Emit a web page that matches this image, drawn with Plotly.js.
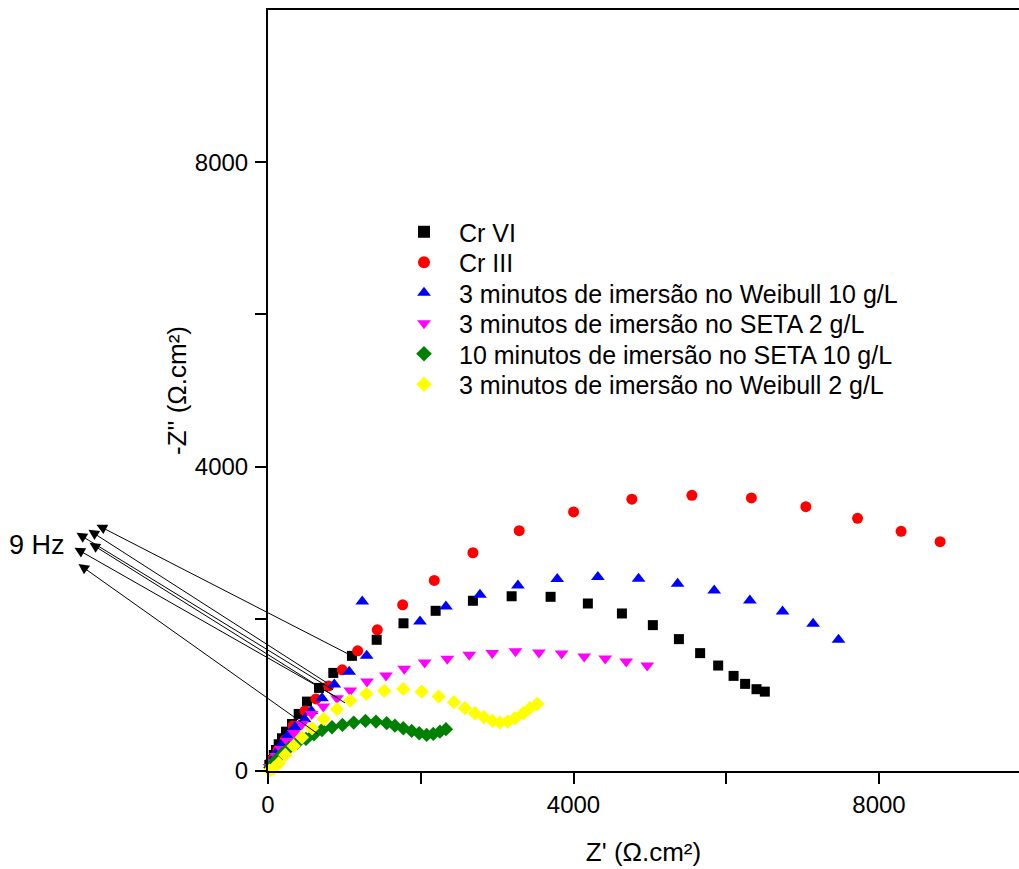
<!DOCTYPE html>
<html>
<head>
<meta charset="utf-8">
<script src="https://cdn.plot.ly/plotly-3.0.1.min.js"></script>
<style>
  html, body { margin: 0; padding: 0; background: #fff; }
  #chart { width: 1019px; height: 869px; }
</style>
</head>
<body>
<div id="chart"></div>
<script>
// ---- Data ----
const seriesNames = [
  "Cr VI",
  "Cr III",
  "3 minutos de imersão no Weibull 10 g/L",
  "3 minutos de imersão no SETA 2 g/L",
  "10 minutos de imersão no SETA 10 g/L",
  "3 minutos de imersão no Weibull 2 g/L"
];

const crVI_x = [17, 43, 75, 105, 140, 183, 236, 314, 402, 510, 668, 855, 1099, 1423, 1774, 2195, 2683, 3190, 3700, 4188, 4634, 5039, 5380, 5658, 5894, 6096, 6247, 6396, 6505];
const crVI_y = [79, 145, 211, 276, 351, 430, 517, 618, 750, 912, 1092, 1289, 1513, 1724, 1941, 2105, 2237, 2296, 2289, 2201, 2070, 1917, 1733, 1549, 1386, 1250, 1145, 1075, 1043];

const crIII_x = [52, 131, 223, 327, 484, 628, 795, 972, 1174, 1431, 1763, 2177, 2683, 3289, 4001, 4764, 5550, 6329, 7042, 7719, 8289, 8800];
const crIII_y = [145, 276, 408, 592, 789, 947, 1118, 1329, 1579, 1855, 2184, 2504, 2868, 3158, 3404, 3572, 3622, 3588, 3474, 3320, 3149, 3013];

const weib10_x = [26, 65, 118, 183, 262, 353, 480, 567, 707, 868, 1063, 1292, 1234, 1990, 2330, 2775, 3272, 3787, 4319, 4852, 5363, 5842, 6309, 6737, 7137, 7470];
const weib10_y = [79, 158, 250, 355, 474, 579, 680, 789, 957, 1138, 1303, 1513, 2228, 1964, 2162, 2316, 2438, 2522, 2549, 2526, 2461, 2372, 2241, 2096, 1934, 1724];

const seta2_x = [20, 52, 105, 170, 249, 340, 445, 572, 724, 903, 1077, 1296, 1545, 1784, 2051, 2347, 2635, 2936, 3240, 3547, 3844, 4140, 4415, 4690, 4965];
const seta2_y = [53, 118, 197, 289, 395, 500, 618, 750, 846, 957, 1057, 1175, 1254, 1342, 1425, 1474, 1526, 1549, 1572, 1557, 1543, 1504, 1478, 1438, 1386];

const seta10_x = [39, 105, 183, 275, 380, 497, 602, 707, 838, 975, 1122, 1276, 1414, 1554, 1662, 1771, 1881, 1980, 2077, 2164, 2251, 2330];
const seta10_y = [66, 145, 224, 303, 368, 421, 483, 539, 575, 605, 636, 658, 649, 628, 596, 562, 526, 496, 474, 487, 517, 549];

const weib2_x = [20, 75, 140, 226, 336, 445, 576, 729, 903, 1077, 1289, 1522, 1771, 2012, 2234, 2435, 2579, 2709, 2827, 2941, 3037, 3137, 3233, 3342, 3429, 3525];
const weib2_y = [5, 36, 101, 211, 329, 443, 562, 684, 812, 925, 1013, 1053, 1079, 1043, 978, 904, 825, 759, 707, 658, 636, 649, 693, 759, 825, 882];

const xTickVals = [0, 2000, 4000, 6000, 8000];
const xTickText = ["0", "", "4000", "", "8000"];
const yTickVals = [0, 2000, 4000, 6000, 8000];
const yTickText = ["0", "", "4000", "", "8000"];

const freqLabel = "9 Hz";

// ---- Styles ----
const FONT = "Liberation Sans, Arial, sans-serif";
const styles = [
  {symbol: "square", color: "#000000", size: 10},
  {symbol: "circle", color: "#FF0000", size: 11},
  {symbol: "triangle-up", color: "#0000FF", size: 12},
  {symbol: "triangle-down", color: "#FF00FF", size: 12},
  {symbol: "diamond", color: "#008000", size: 11},
  {symbol: "diamond", color: "#FFFF00", size: 11}
];
const xs = [crVI_x, crIII_x, weib10_x, seta2_x, seta10_x, weib2_x];
const ys = [crVI_y, crIII_y, weib10_y, seta2_y, seta10_y, weib2_y];
const legendIds = ["legend", "legend2", "legend3", "legend4", "legend5", "legend6"];

const traces = seriesNames.map((name, i) => ({
  type: "scatter",
  mode: "markers",
  name: name,
  x: xs[i],
  y: ys[i],
  legend: legendIds[i],
  cliponaxis: false,
  marker: {symbol: styles[i].symbol, color: styles[i].color, size: styles[i].size, line: {width: 0}}
}));

// Arrows for the 9 Hz points: anchor (data coords) and pixel offset to arrowhead
const arrowAnchors = [
  [1047, 1539, -253, -130],
  [772, 1158, -240, -154],
  [851, 1066, -258, -158],
  [1008, 895, -257, -161],
  [916, 961, -265, -151],
  [654, 487, -241, -171]
];
const annotations = arrowAnchors.map(a => ({
  xref: "x", yref: "y", x: a[0], y: a[1],
  axref: "pixel", ayref: "pixel", ax: a[2], ay: a[3],
  text: "", showarrow: true, arrowside: "start",
  arrowhead: 2, startarrowhead: 2, arrowsize: 2, startarrowsize: 2.1, arrowwidth: 1, arrowcolor: "#000"
}));
annotations.push({
  xref: "paper", yref: "paper", x: -0.347, y: 0.297,
  xanchor: "left", yanchor: "middle", showarrow: false,
  text: freqLabel, font: {family: FONT, size: 27, color: "#000"}
});

const layout = {
  width: 1019, height: 869,
  margin: {l: 268, r: 0, t: 10, b: 98},
  paper_bgcolor: "#fff", plot_bgcolor: "#fff",
  font: {family: FONT, size: 24, color: "#000"},
  showlegend: true,
  xaxis: {
    range: [0, 9833], showgrid: false, zeroline: false,
    showline: true, linecolor: "#000", linewidth: 2, mirror: true,
    ticks: "outside", ticklen: 11, tickwidth: 2, tickcolor: "#000",
    tickvals: xTickVals, ticktext: xTickText,
    tickfont: {family: FONT, size: 24, color: "#000"},
    title: {text: "Z' (Ω.cm²)", font: {family: FONT, size: 26, color: "#000"}, standoff: 26}
  },
  yaxis: {
    range: [0, 10000], showgrid: false, zeroline: false,
    showline: true, linecolor: "#000", linewidth: 2,
    ticks: "outside", ticklen: 11, tickwidth: 2, tickcolor: "#000",
    tickvals: yTickVals, ticktext: yTickText,
    ticklabelstandoff: 2,
    tickfont: {family: FONT, size: 24, color: "#000"},
    title: {text: "-Z'' (Ω.cm²)", font: {family: FONT, size: 26, color: "#000"}, standoff: 1}
  },
  annotations: annotations
};

// one legend box per series, stacked at the reference row spacing
const legendTop = 232, legendStep = 30.5, plotTop = 10, plotH = 761, plotL = 268, plotW = 751;
legendIds.forEach((id, i) => {
  const yc = legendTop + legendStep * i;
  layout[id] = {
    x: (389 - plotL) / plotW, y: 1 - (yc - plotTop) / plotH,
    xanchor: "left", yanchor: "middle",
    bgcolor: "rgba(0,0,0,0)", borderwidth: 0,
    font: {family: FONT, size: 25, color: "#000"},
    itemsizing: "constant", itemwidth: 60
  };
});

Plotly.newPlot("chart", traces, layout, {displayModeBar: false, staticPlot: true});
</script>
</body>
</html>
